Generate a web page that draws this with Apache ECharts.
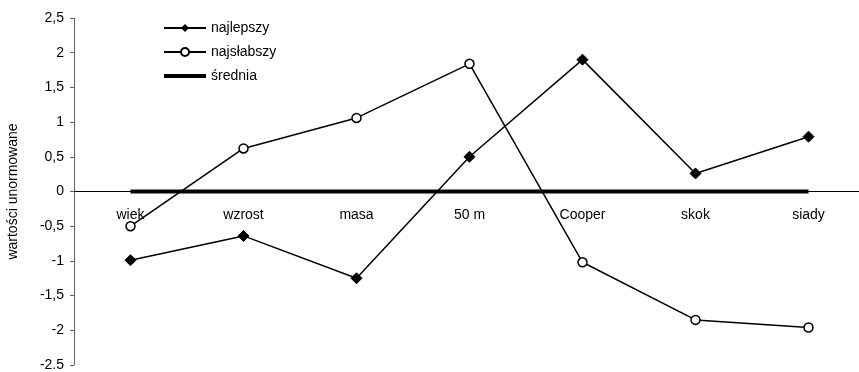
<!DOCTYPE html>
<html>
<head>
<meta charset="utf-8">
<script src="https://cdn.jsdelivr.net/npm/echarts@6/dist/echarts.min.js"></script>
<style>
  html, body { margin: 0; padding: 0; background: #fff; }
  #main { width: 859px; height: 372px; }
</style>
</head>
<body>
<div id="main"></div>
<script>
// kategorie na osi X
var categories = ['wiek', 'wzrost', 'masa', '50 m', 'Cooper', 'skok', 'siady'];
// wartości
var najlepszy = [-0.99, -0.64, -1.25, 0.5, 1.9, 0.26, 0.79];
var najslabszy = [-0.5, 0.62, 1.06, 1.84, -1.02, -1.85, -1.96];
var srednia = [0, 0, 0, 0, 0, 0, 0];
// opisy osi Y (od dołu)
var yLabels = ['-2.5', '-2', '-1,5', '-1', '-0,5', '0', '0,5', '1', '1,5', '2', '2,5'];

var chart = echarts.init(document.getElementById('main'));
var font = 'Liberation Sans, Arial, sans-serif';

chart.setOption({
  animation: false,
  backgroundColor: '#fff',
  grid: { left: 74, top: 18, height: 347, width: 791, containLabel: false, outerBoundsMode: 'none' },
  legend: {
    orient: 'vertical',
    left: 157,
    top: 16,
    itemGap: 10,
    itemWidth: 42,
    itemHeight: 10,
    textStyle: { color: '#000', fontSize: 14, fontFamily: font },
    data: [
      'najlepszy',
      'najsłabszy',
      { name: 'średnia', itemStyle: { opacity: 0 }, lineStyle: { width: 4 } }
    ]
  },
  xAxis: {
    type: 'category',
    data: categories,
    boundaryGap: true,
    // oś X przesunięta na poziom zera (razem z opisami)
    offset: -173.5,
    axisLine: { onZero: false, lineStyle: { color: '#000', width: 1 } },
    axisTick: { show: false },
    axisLabel: { color: '#000', fontSize: 14, fontFamily: font, margin: 17 },
    splitLine: { show: false }
  },
  yAxis: {
    type: 'value',
    min: -2.5,
    max: 2.5,
    interval: 0.5,
    name: 'wartości unormowane',
    nameLocation: 'middle',
    nameGap: 54,
    nameTextStyle: { color: '#000', fontSize: 14, fontFamily: font },
    axisLine: { show: true, lineStyle: { color: '#666', width: 1 } },
    axisTick: { show: true, length: 4, lineStyle: { color: '#666' } },
    axisLabel: {
      color: '#000', fontSize: 14, fontFamily: font, margin: 10,
      formatter: function (v) { return yLabels[Math.round((v + 2.5) * 2)]; }
    },
    splitLine: { show: false }
  },
  series: [
    {
      name: 'najlepszy',
      type: 'line',
      data: najlepszy,
      symbol: 'diamond',
      symbolSize: 11,
      lineStyle: { color: '#000', width: 1.5 },
      itemStyle: { color: '#000', borderColor: '#000' }
    },
    {
      name: 'najsłabszy',
      type: 'line',
      data: najslabszy,
      symbol: 'circle',
      symbolSize: 9,
      lineStyle: { color: '#000', width: 1.5 },
      itemStyle: { color: '#fff', borderColor: '#000', borderWidth: 1.5 }
    },
    {
      name: 'średnia',
      type: 'line',
      data: srednia,
      symbol: 'none',
      lineStyle: { color: '#000', width: 4 },
      itemStyle: { color: '#000' }
    }
  ]
});
</script>
</body>
</html>
